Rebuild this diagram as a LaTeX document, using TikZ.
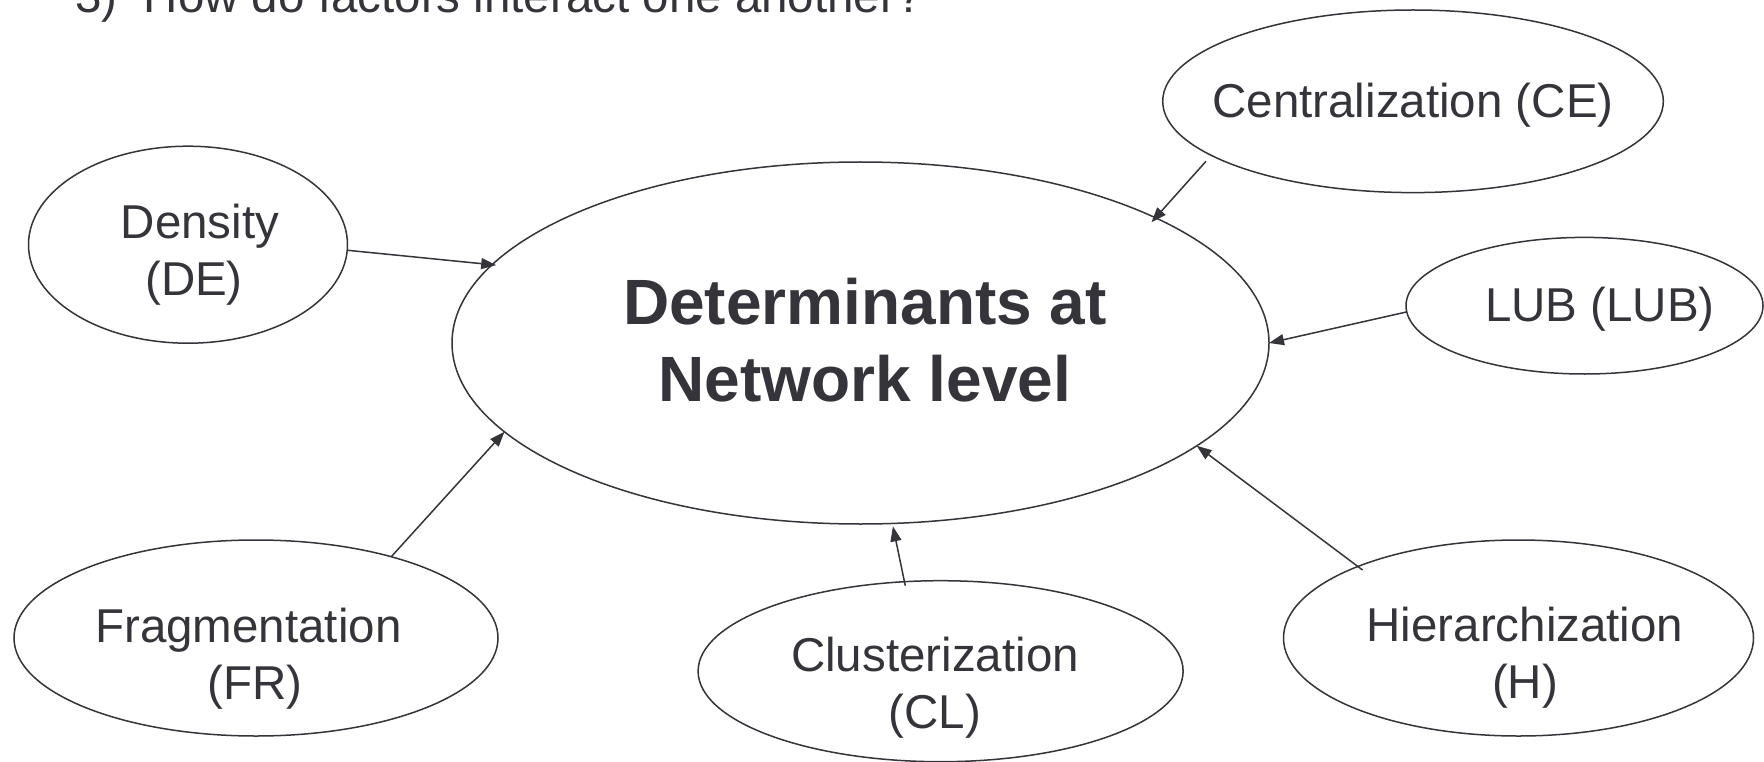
\documentclass[tikz,border=0pt]{standalone}
\usepackage{fontspec}
\setmainfont{Liberation Sans}
\usetikzlibrary{arrows.meta,shapes.geometric}
\definecolor{ink}{RGB}{52,52,58}
% label with horizontal offset #1 (pt) and first-baseline raise #2 (pt)
\newcommand\lbl[3]{\makebox[0pt]{\raisebox{#2pt}[0pt][0pt]{\hspace*{#1pt}\hspace*{#1pt}\begin{tabular}[t]{@{}c@{}}#3\end{tabular}}}}
\begin{document}
\begin{tikzpicture}[x=1pt,y=-1pt,
  oval/.style={ellipse, draw=ink, line width=1.5pt, inner sep=0pt, outer sep=0pt,
    text=ink, font=\fontsize{47.5}{57}\selectfont},
  conn/.style={draw=ink, line width=1.5pt, -{Triangle[length=15pt,width=11pt]}}]
\path[use as bounding box, fill=white] (0,0) rectangle (1764,762);

\node[anchor=base west, inner sep=0pt, text=ink, font=\fontsize{47.5}{57}\selectfont]
  (title) at (75,12.5) {3)\ \ How do factors interact one another?};

\node[oval, font=\fontsize{64}{77}\selectfont\bfseries, minimum width=817pt, minimum height=362pt]
  (C) at (860.5,343) {\lbl{4.5}{19}{Determinants at\\Network level}};

\node[oval, minimum width=319pt, minimum height=197pt] (DE) at (188,244.7) {\lbl{12}{6}{Density\\\hspace*{-12pt}(DE)}};
\node[oval, minimum width=500.6pt, minimum height=182.6pt] (CE) at (1413,101.3) {\lbl{0}{-16}{Centralization (CE)}};
\node[oval, minimum width=357pt, minimum height=136.6pt] (LUB) at (1584.5,305.7) {\lbl{15.5}{-16}{LUB (LUB)}};
\node[oval, minimum width=470pt, minimum height=196pt] (H) at (1518.5,638) {\lbl{6.5}{-3.7}{Hierarchization\\(H)}};
\node[oval, minimum width=485pt, minimum height=181pt] (CL) at (940.6,671.2) {\lbl{-5.6}{0}{Clusterization\\(CL)}};
\node[oval, minimum width=484pt, minimum height=196pt] (FR) at (256,638) {\lbl{-7.6}{-4.3}{Fragmentation\\\hspace*{13pt}(FR)}};

\draw[conn, shorten >=-4pt] (DE.-2.9) -- (C.168.2);
\draw[conn] (FR.31.3) -- (C.194.75);
\draw[conn, shorten <=-4pt, shorten >=3pt] (CL.112.1) -- (C.-80);
\draw[conn, shorten <=-6pt] (H.156.8) -- (C.-17.65);
\draw[conn] (LUB.182.2) -- (C.0);
\draw[conn, shorten <=8pt, shorten >=-6pt] (CE.195.5) -- (C.23.07);
\end{tikzpicture}
\end{document}
